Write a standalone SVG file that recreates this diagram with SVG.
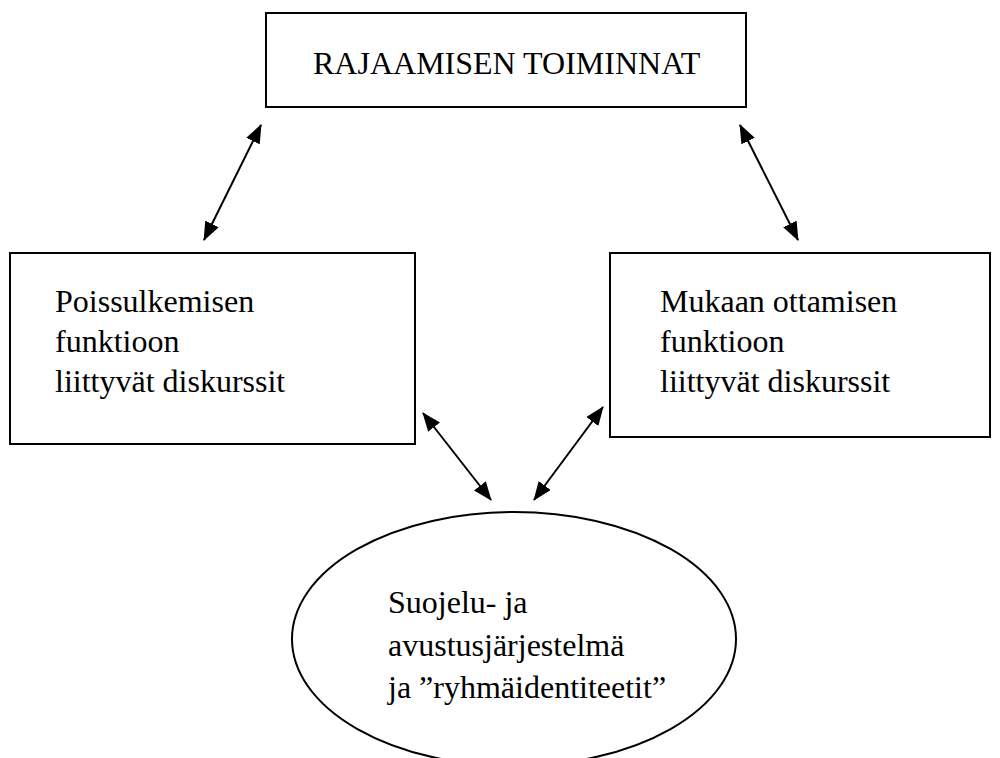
<svg xmlns="http://www.w3.org/2000/svg" width="1000" height="758" viewBox="0 0 1000 758">
<defs>
<style>
.box{fill:#fff;stroke:#000;stroke-width:2}
.t{font-family:"Liberation Serif","Times New Roman",serif;font-size:32px;fill:#000}
.c{stroke:#000;stroke-width:2;fill:none;marker-start:url(#ah);marker-end:url(#ah)}
</style>
<marker id="ah" viewBox="0 0 19 15" refX="18" refY="7.5" markerWidth="19" markerHeight="15" markerUnits="userSpaceOnUse" orient="auto-start-reverse">
<path d="M0,0 L19,7.5 L0,15 Z" fill="#000"/>
</marker>
</defs>
<rect width="1000" height="758" fill="#fff"/>
<g id="top">
<rect class="box" x="266" y="13" width="480" height="94"/>
<text class="t" x="313" y="74">RAJAAMISEN TOIMINNAT</text>
</g>
<g id="left">
<rect class="box" x="10" y="253" width="405" height="191"/>
<text class="t" x="55" y="312">Poissulkemisen</text>
<text class="t" x="55" y="352">funktioon</text>
<text class="t" x="55" y="392">liittyvät diskurssit</text>
</g>
<g id="right">
<rect class="box" x="610" y="253" width="380" height="184"/>
<text class="t" x="660" y="312">Mukaan ottamisen</text>
<text class="t" x="660" y="352">funktioon</text>
<text class="t" x="660" y="392">liittyvät diskurssit</text>
</g>
<g id="center">
<ellipse class="box" cx="514" cy="639" rx="222" ry="127"/>
<text class="t" x="388" y="613">Suojelu- ja</text>
<text class="t" x="388" y="656">avustusjärjestelmä</text>
<text class="t" x="388" y="698">ja ”ryhmäidentiteetit”</text>
</g>
<g id="connectors">
<line class="c" x1="204" y1="240" x2="261" y2="125"/>
<line class="c" x1="740" y1="125" x2="798" y2="240"/>
<line class="c" x1="423" y1="413" x2="491" y2="500"/>
<line class="c" x1="603" y1="407" x2="534" y2="500"/>
</g>
</svg>
